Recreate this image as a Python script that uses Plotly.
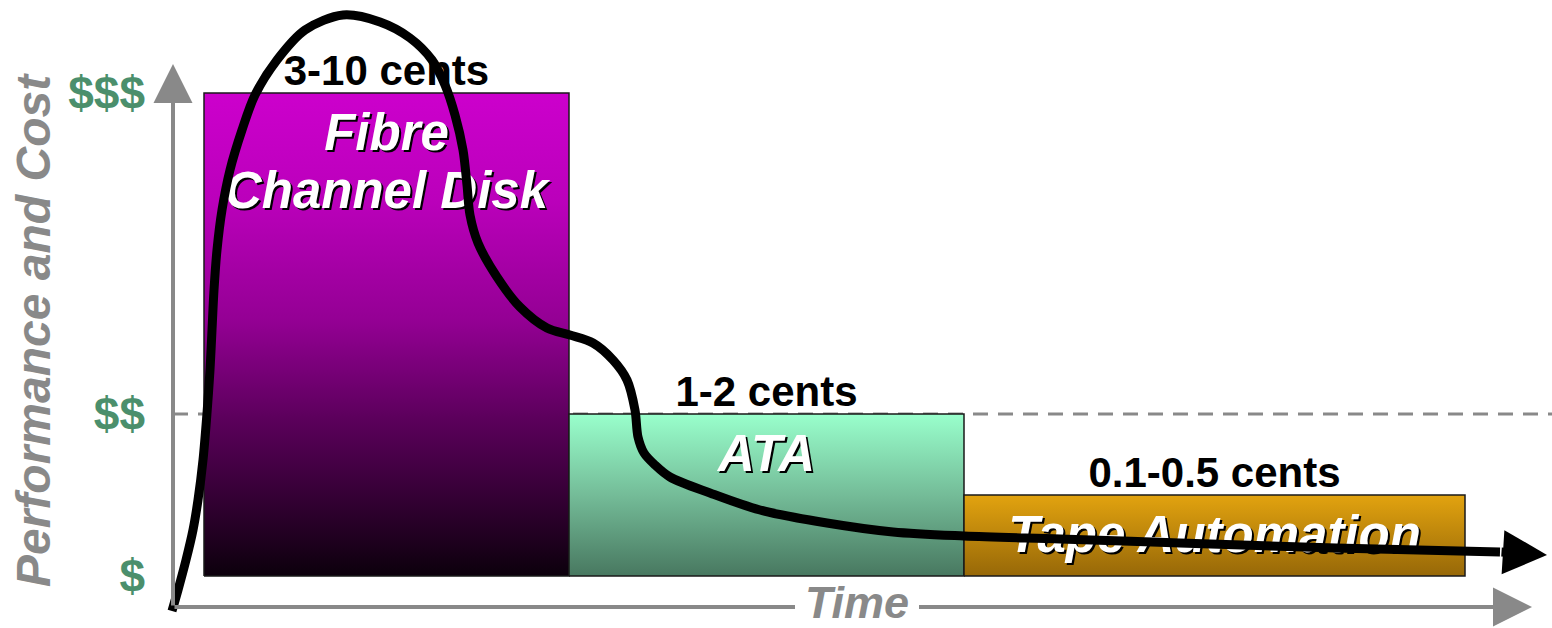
import plotly.graph_objects as go

# ---------------- data (x: time units, y: performance/cost units) ----------------
tier_names = ["Fibre<br>Channel Disk", "ATA", "Tape Automation"]
tier_price = ["3-10 cents", "1-2 cents", "0.1-0.5 cents"]
tier_start = [3.1, 39.6, 79.1]
tier_end = [39.6, 79.1, 129.2]
tier_level = [48.3, 16.2, 8.1]

cost_tick_vals = [0.0, 16.2, 48.3]
cost_tick_text = ["$", "$$", "$$$"]
reference_level = 16.2

curve_time = [-0.1, 0.5, 1.3, 2.0, 2.5, 3.0, 3.4, 3.7, 3.9, 4.1, 4.4, 4.9, 5.7, 6.9, 8.2,
              10.4, 13.2, 17.0, 20.7, 23.7, 25.9, 27.2, 28.2, 29.0, 29.4, 29.7, 30.5,
              32.4, 34.7, 37.4, 39.7, 42.0, 44.0, 45.4, 46.2, 46.5, 47.1, 48.2, 49.7,
              53.7, 58.7, 65.4, 72.0, 79.1, 88.7, 100.7, 116.3, 132.7, 137.4]
curve_value = [-3.5, -1.4, 1.6, 4.6, 7.6, 11.6, 16.3, 20.6, 24.6, 28.6, 32.6, 36.6, 40.6,
               44.6, 48.1, 51.6, 54.6, 56.1, 55.4, 53.8, 51.6, 49.1, 46.1, 42.6, 39.1,
               36.1, 33.3, 29.9, 26.9, 24.8, 24.1, 23.3, 21.6, 19.6, 16.6, 13.9, 12.3,
               11.1, 9.9, 8.3, 6.6, 5.3, 4.4, 4.0, 3.7, 3.3, 2.8, 2.4, 2.1]

# ---------------- layout constants ----------------
X_RANGE = [-17.3, 137.9]
Y_RANGE = [-5.2, 57.6]
COST_AXIS_X = 0.0
TIME_AXIS_Y = -3.1
COST_AXIS_TIP = 51.2
TIME_AXIS_TIP = 135.9
PRICE_GAP = 1.85
NAME_DROP = 4.45
NAME_STEP = 5.75

FONT = "Liberation Sans, Arial, sans-serif"
GRAY = "#898989"
GREEN = "#4b8f6c"

tier_scales = [
    [[0, "#0c000c"], [0.12, "#2a002a"], [0.32, "#5a005a"], [0.53, "#940094"],
     [0.78, "#bb00bb"], [1, "#cc00cc"]],
    [[0, "#487860"], [0.5, "#74bc98"], [1, "#99ffcc"]],
    [[0, "#976808"], [1, "#e2a30f"]],
]

fig = go.Figure()

# tier blocks with vertical gradients
for s, e, lvl, cs in zip(tier_start, tier_end, tier_level, tier_scales):
    fig.add_trace(go.Scatter(
        x=[s, e, e, s, s], y=[0, 0, lvl, lvl, 0],
        mode="lines", fill="toself",
        fillgradient=dict(type="vertical", colorscale=cs),
        line=dict(color="#1a1a1a", width=1.5),
        hoverinfo="skip", showlegend=False,
    ))

# price labels above each tier
fig.add_trace(go.Scatter(
    x=[(s + e) / 2 for s, e in zip(tier_start, tier_end)],
    y=[lvl + PRICE_GAP for lvl in tier_level],
    text=tier_price, mode="text", textposition="middle center",
    textfont=dict(family=FONT, size=42, color="black", weight="bold"),
    hoverinfo="skip", showlegend=False, cliponaxis=False,
))

# tier names inside each block (one text mark per line)
nx, ny, nt = [], [], []
for name, s, e, lvl in zip(tier_names, tier_start, tier_end, tier_level):
    for i, line in enumerate(name.split("<br>")):
        nx.append((s + e) / 2)
        ny.append(lvl - NAME_DROP - i * NAME_STEP)
        nt.append(line)
fig.add_trace(go.Scatter(
    x=nx, y=ny, text=nt, mode="text", textposition="middle center",
    textfont=dict(family=FONT, size=51, color="white", weight="bold",
                  style="italic", shadow="2px 2px 0px #000000"),
    hoverinfo="skip", showlegend=False, cliponaxis=False,
))

# the performance/cost curve (drawn on top)
fig.add_trace(go.Scatter(
    x=curve_time[:-1], y=curve_value[:-1], mode="lines",
    line=dict(color="black", width=9, shape="spline", smoothing=0.9),
    hoverinfo="skip", showlegend=False, cliponaxis=False,
))

annotations = [
    # curve arrowhead
    dict(x=curve_time[-1], y=curve_value[-1], ax=curve_time[-2], ay=curve_value[-2],
         xref="x", yref="y", axref="x", ayref="y", text="", showarrow=True,
         arrowhead=2, arrowsize=0.98, arrowwidth=9, arrowcolor="black"),
    # cost axis
    dict(x=COST_AXIS_X, y=COST_AXIS_TIP, ax=COST_AXIS_X, ay=TIME_AXIS_Y,
         xref="x", yref="y", axref="x", ayref="y", text="", showarrow=True,
         arrowhead=2, arrowsize=1.95, arrowwidth=4, arrowcolor=GRAY),
    # time axis
    dict(x=TIME_AXIS_TIP, y=TIME_AXIS_Y, ax=COST_AXIS_X, ay=TIME_AXIS_Y,
         xref="x", yref="y", axref="x", ayref="y", text="", showarrow=True,
         arrowhead=2, arrowsize=1.95, arrowwidth=4, arrowcolor=GRAY),
    dict(x=68.4, y=-2.65, xref="x", yref="y", text="Time", showarrow=False,
         bgcolor="white", borderpad=0, borderwidth=0, width=124,
         xanchor="center", yanchor="middle",
         font=dict(family=FONT, size=45, color=GRAY, weight="bold", style="italic")),
    dict(x=-14.0, y=24.6, xref="x", yref="y", text="Performance and Cost",
         showarrow=False, textangle=-90, xanchor="center", yanchor="middle",
         font=dict(family=FONT, size=48, color=GRAY, weight="bold", style="italic")),
]

shapes = [
    dict(type="line", xref="x", yref="y", x0=COST_AXIS_X, x1=X_RANGE[1],
         y0=reference_level, y1=reference_level, layer="below",
         line=dict(color=GRAY, width=3, dash="15px,10px")),
]

fig.update_layout(
    width=1552, height=628,
    margin=dict(l=0, r=0, t=0, b=0),
    paper_bgcolor="white", plot_bgcolor="white",
    showlegend=False,
    xaxis=dict(range=X_RANGE, visible=False, fixedrange=True),
    yaxis=dict(range=Y_RANGE, anchor="free",
               position=(COST_AXIS_X - X_RANGE[0]) / (X_RANGE[1] - X_RANGE[0]),
               showline=False, showgrid=False, zeroline=False, ticks="",
               tickvals=cost_tick_vals, ticktext=cost_tick_text,
               tickfont=dict(family=FONT, size=46, color=GREEN, weight="bold"),
               ticklabelstandoff=28, fixedrange=True),
    annotations=annotations,
    shapes=shapes,
)

fig.write_html("out.html")
